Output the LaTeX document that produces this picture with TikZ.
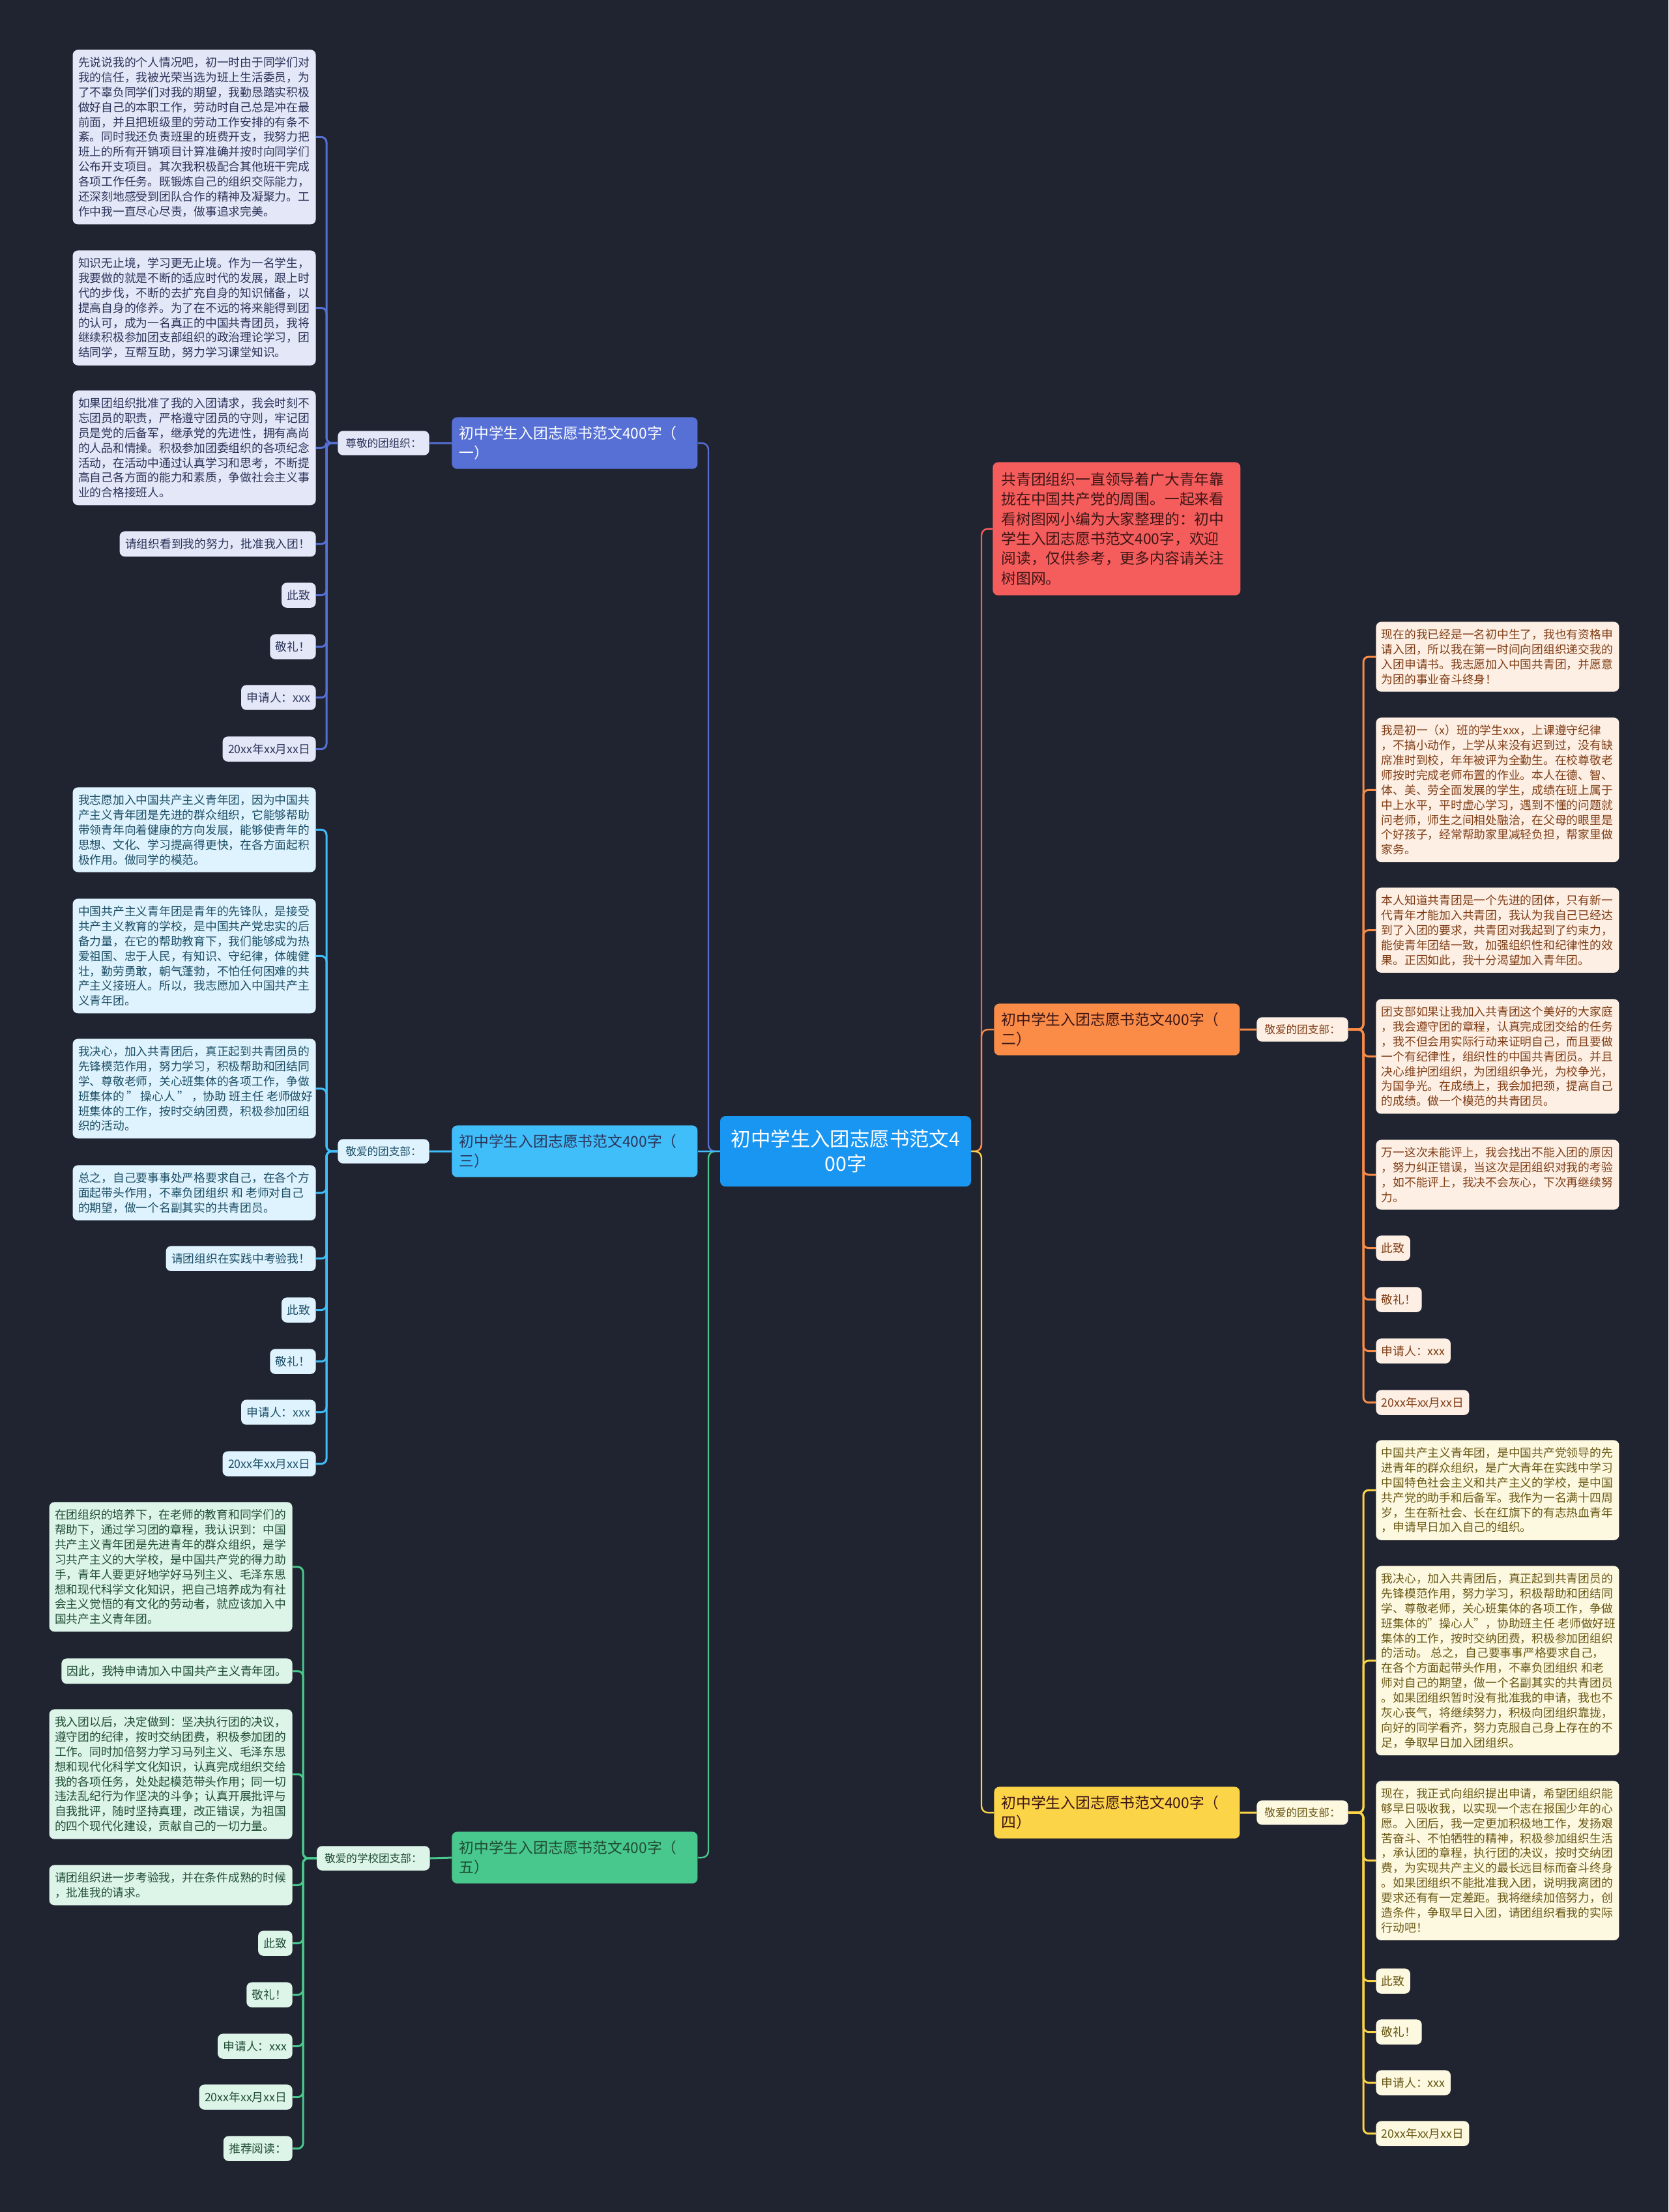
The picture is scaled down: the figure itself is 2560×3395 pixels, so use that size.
\documentclass[tikz,border=0pt]{standalone}
\usepackage{fontspec}
\setmainfont{Noto Sans CJK SC}
\usepackage{tikz}
\definecolor{bgdark}{RGB}{32,36,48}
\definecolor{rootblue}{RGB}{24,150,242}
\definecolor{cBlue}{RGB}{86,112,214}
\definecolor{cBlueLeaf}{RGB}{227,231,247}
\definecolor{cBlueInk}{RGB}{45,52,90}
\definecolor{cCyan}{RGB}{64,190,250}
\definecolor{cCyanLeaf}{RGB}{222,243,253}
\definecolor{cCyanInk}{RGB}{28,78,102}
\definecolor{cGreen}{RGB}{72,200,140}
\definecolor{cGreenLeaf}{RGB}{221,244,232}
\definecolor{cGreenInk}{RGB}{32,78,52}
\definecolor{cOrange}{RGB}{250,140,72}
\definecolor{cOrangeLeaf}{RGB}{253,239,228}
\definecolor{cOrangeInk}{RGB}{128,62,22}
\definecolor{cYellow}{RGB}{252,212,72}
\definecolor{cYellowLeaf}{RGB}{253,248,224}
\definecolor{cYellowInk}{RGB}{105,88,20}
\definecolor{cRed}{RGB}{245,92,92}
\definecolor{cRedInk}{RGB}{62,22,22}

\begin{document}
\begin{tikzpicture}[x=0.5pt, y=-0.5pt,
    box/.style={rounded corners=4pt, inner xsep=4.25pt, inner ysep=5.5pt, align=left,
      font=\fontsize{8.875}{11.45}\selectfont},
    para/.style={box, text width=178pt},
    tag/.style={rounded corners=4pt, inner xsep=6pt, inner ysep=5.5pt,
      font=\fontsize{8.3}{10}\selectfont},
    branch/.style={rounded corners=4pt, inner xsep=5.5pt, inner ysep=6.8pt,
      text width=177.5pt, align=left, font=\fontsize{11.4}{15.2}\selectfont},
    trunk/.style={line width=1.2pt, rounded corners=5pt},
    link/.style={line width=1.5pt, rounded corners=4pt},
    blueleaf/.style={fill=cBlueLeaf, text=cBlueInk},
    cyanleaf/.style={fill=cCyanLeaf, text=cCyanInk},
    greenleaf/.style={fill=cGreenLeaf, text=cGreenInk},
    orangeleaf/.style={fill=cOrangeLeaf, text=cOrangeInk},
    yellowleaf/.style={fill=cYellowLeaf, text=cYellowInk}]
  \path[use as bounding box, fill=bgdark] (0,0) rectangle (2560,3395);

  % Root and first level
  \node[rounded corners=4pt, fill=rootblue, text=white, align=center, minimum width=192.5pt,
    minimum height=54pt, font=\fontsize{15.2}{19}\selectfont] (root) at (1297.5,1767)
    {初中学生入团志愿书范文4\\00字};
  \node[branch, fill=cBlue, text=white, anchor=north west] (br1) at (693,640)
    {初中学生入团志愿书范文400字（\\一）};
  \node[branch, fill=cCyan, text=cBlueInk, anchor=north west] (br3) at (693,1727)
    {初中学生入团志愿书范文400字（\\三）};
  \node[branch, fill=cGreen, text=cGreenInk, anchor=north west] (br5) at (693,2811)
    {初中学生入团志愿书范文400字（\\五）};
  \node[branch, fill=cRed, text=cRedInk, text width=177pt, inner xsep=6.5pt, inner ysep=7.8pt,
    anchor=north west] (intro) at (1523,709)
    {共青团组织一直领导着广大青年靠\\拢在中国共产党的周围。一起来看\\看树图网小编为大家整理的：初中\\学生入团志愿书范文400字，欢迎\\阅读，仅供参考，更多内容请关注\\树图网。};
  \node[branch, fill=cOrange, text=cRedInk, anchor=north west] (br2) at (1525,1540)
    {初中学生入团志愿书范文400字（\\二）};
  \node[branch, fill=cYellow, text=cRedInk, anchor=north west] (br4) at (1525,2742)
    {初中学生入团志愿书范文400字（\\四）};

  % Labels
  \node[tag, blueleaf, anchor=east] (lab1) at (659,680) {尊敬的团组织：};
  \node[tag, cyanleaf, anchor=east] (lab3) at (659,1767) {敬爱的团支部：};
  \node[tag, greenleaf, anchor=east] (lab5) at (660,2852) {敬爱的学校团支部：};
  \node[tag, orangeleaf, anchor=west] (lab2) at (1928,1580) {敬爱的团支部：};
  \node[tag, yellowleaf, anchor=west] (lab4) at (1928,2782) {敬爱的团支部：};

  % Branch one
  \node[para, blueleaf, anchor=north east] (l1-1) at (485,76)
    {先说说我的个人情况吧，初一时由于同学们对\\我的信任，我被光荣当选为班上生活委员，为\\了不辜负同学们对我的期望，我勤恳踏实积极\\做好自己的本职工作，劳动时自己总是冲在最\\前面，并且把班级里的劳动工作安排的有条不\\紊。同时我还负责班里的班费开支，我努力把\\班上的所有开销项目计算准确并按时向同学们\\公布开支项目。其次我积极配合其他班干完成\\各项工作任务。既锻炼自己的组织交际能力，\\还深刻地感受到团队合作的精神及凝聚力。工\\作中我一直尽心尽责，做事追求完美。};
  \node[para, blueleaf, anchor=north east] (l1-2) at (485,384)
    {知识无止境，学习更无止境。作为一名学生，\\我要做的就是不断的适应时代的发展，跟上时\\代的步伐，不断的去扩充自身的知识储备，以\\提高自身的修养。为了在不远的将来能得到团\\的认可，成为一名真正的中国共青团员，我将\\继续积极参加团支部组织的政治理论学习，团\\结同学，互帮互助，努力学习课堂知识。};
  \node[para, blueleaf, anchor=north east] (l1-3) at (485,599)
    {如果团组织批准了我的入团请求，我会时刻不\\忘团员的职责，严格遵守团员的守则，牢记团\\员是党的后备军，继承党的先进性，拥有高尚\\的人品和情操。积极参加团委组织的各项纪念\\活动，在活动中通过认真学习和思考，不断提\\高自己各方面的能力和素质，争做社会主义事\\业的合格接班人。};
  \node[box, blueleaf, anchor=north east] (l1-4) at (485,815) {请组织看到我的努力，批准我入团！};
  \foreach \n/\y/\t in {5/894/此致, 6/973/敬礼！, 7/1051/申请人：xxx, 8/1130/20xx年xx月xx日}
    \node[box, blueleaf, anchor=north east] (l1-\n) at (485,\y) {\t};

  % Branch three
  \node[para, cyanleaf, anchor=north east] (l3-1) at (485,1208)
    {我志愿加入中国共产主义青年团，因为中国共\\产主义青年团是先进的群众组织，它能够帮助\\带领青年向着健康的方向发展，能够使青年的\\思想、文化、学习提高得更快，在各方面起积\\极作用。做同学的模范。};
  \node[para, cyanleaf, anchor=north east] (l3-2) at (485,1379)
    {中国共产主义青年团是青年的先锋队，是接受\\共产主义教育的学校，是中国共产党忠实的后\\备力量，在它的帮助教育下，我们能够成为热\\爱祖国、忠于人民，有知识、守纪律，体魄健\\壮，勤劳勇敢，朝气蓬勃，不怕任何困难的共\\产主义接班人。所以，我志愿加入中国共产主\\义青年团。};
  \node[para, cyanleaf, anchor=north east] (l3-3) at (485,1594)
    {我决心，加入共青团后，真正起到共青团员的\\先锋模范作用，努力学习，积极帮助和团结同\\学、尊敬老师，关心班集体的各项工作，争做\\\mbox{班集体的\hspace{.2em}"\hspace{.2em}操心人\hspace{.2em}"\hspace{.2em}，协助\hspace{.25em}班主任\hspace{.25em}老师做好}\\班集体的工作，按时交纳团费，积极参加团组\\织的活动。};
  \node[para, cyanleaf, anchor=north east] (l3-4) at (485,1788)
    {总之，自己要事事处严格要求自己，在各个方\\\mbox{面起带头作用，不辜负团组织\hspace{.25em}和\hspace{.25em}老师对自己}\\的期望，做一个名副其实的共青团员。};
  \node[box, cyanleaf, anchor=north east] (l3-5) at (485,1912) {请团组织在实践中考验我！};
  \foreach \n/\y/\t in {6/1991/此致, 7/2070/敬礼！, 8/2148/申请人：xxx, 9/2227/20xx年xx月xx日}
    \node[box, cyanleaf, anchor=north east] (l3-\n) at (485,\y) {\t};

  % Branch five
  \node[para, greenleaf, anchor=north east] (l5-1) at (449,2305)
    {在团组织的培养下，在老师的教育和同学们的\\帮助下，通过学习团的章程，我认识到：中国\\共产主义青年团是先进青年的群众组织，是学\\习共产主义的大学校，是中国共产党的得力助\\手，青年人要更好地学好马列主义、毛泽东思\\想和现代科学文化知识，把自己培养成为有社\\会主义觉悟的有文化的劳动者，就应该加入中\\国共产主义青年团。};
  \node[box, greenleaf, anchor=north east] (l5-2) at (449,2545) {因此，我特申请加入中国共产主义青年团。};
  \node[para, greenleaf, anchor=north east] (l5-3) at (449,2623)
    {我入团以后，决定做到：坚决执行团的决议，\\遵守团的纪律，按时交纳团费，积极参加团的\\工作。同时加倍努力学习马列主义、毛泽东思\\想和现代化科学文化知识，认真完成组织交给\\我的各项任务，处处起模范带头作用；同一切\\违法乱纪行为作坚决的斗争；认真开展批评与\\自我批评，随时坚持真理，改正错误，为祖国\\的四个现代化建设，贡献自己的一切力量。};
  \node[para, greenleaf, anchor=north east] (l5-4) at (449,2862)
    {请团组织进一步考验我，并在条件成熟的时候\\，批准我的请求。};
  \foreach \n/\y/\t in {5/2963/此致, 6/3042/敬礼！, 7/3121/申请人：xxx, 8/3199/20xx年xx月xx日, 9/3278/推荐阅读：}
    \node[box, greenleaf, anchor=north east] (l5-\n) at (449,\y) {\t};

  % Branch two
  \node[para, orangeleaf, anchor=north west] (l2-1) at (2111,954)
    {现在的我已经是一名初中生了，我也有资格申\\请入团，所以我在第一时间向团组织递交我的\\入团申请书。我志愿加入中国共青团，并愿意\\为团的事业奋斗终身！};
  \node[para, orangeleaf, anchor=north west] (l2-2) at (2111,1101)
    {我是初一（x）班的学生xxx，上课遵守纪律\\，不搞小动作，上学从来没有迟到过，没有缺\\席准时到校，年年被评为全勤生。在校尊敬老\\师按时完成老师布置的作业。本人在德、智、\\体、美、劳全面发展的学生，成绩在班上属于\\中上水平，平时虚心学习，遇到不懂的问题就\\问老师，师生之间相处融洽，在父母的眼里是\\个好孩子，经常帮助家里减轻负担，帮家里做\\家务。};
  \node[para, orangeleaf, anchor=north west] (l2-3) at (2111,1362)
    {本人知道共青团是一个先进的团体，只有新一\\代青年才能加入共青团，我认为我自己已经达\\到了入团的要求，共青团对我起到了约束力，\\能使青年团结一致，加强组织性和纪律性的效\\果。正因如此，我十分渴望加入青年团。};
  \node[para, orangeleaf, anchor=north west] (l2-4) at (2111,1533)
    {团支部如果让我加入共青团这个美好的大家庭\\，我会遵守团的章程，认真完成团交给的任务\\，我不但会用实际行动来证明自己，而且要做\\一个有纪律性，组织性的中国共青团员。并且\\决心维护团组织，为团组织争光，为校争光，\\为国争光。在成绩上，我会加把颈，提高自己\\的成绩。做一个模范的共青团员。};
  \node[para, orangeleaf, anchor=north west] (l2-5) at (2111,1749)
    {万一这次未能评上，我会找出不能入团的原因\\，努力纠正错误，当这次是团组织对我的考验\\，如不能评上，我决不会灰心，下次再继续努\\力。};
  \foreach \n/\y/\t in {6/1896/此致, 7/1975/敬礼！, 8/2054/申请人：xxx, 9/2133/20xx年xx月xx日}
    \node[box, orangeleaf, anchor=north west] (l2-\n) at (2111,\y) {\t};

  % Branch four
  \node[para, yellowleaf, anchor=north west] (l4-1) at (2111,2210)
    {中国共产主义青年团，是中国共产党领导的先\\进青年的群众组织，是广大青年在实践中学习\\中国特色社会主义和共产主义的学校，是中国\\共产党的助手和后备军。我作为一名满十四周\\岁，生在新社会、长在红旗下的有志热血青年\\，申请早日加入自己的组织。};
  \node[para, yellowleaf, anchor=north west] (l4-2) at (2111,2403)
    {我决心，加入共青团后，真正起到共青团员的\\先锋模范作用，努力学习，积极帮助和团结同\\学、尊敬老师，关心班集体的各项工作，争做\\\mbox{班集体的"操心人"，协助班主任\hspace{.25em}老师做好班}\\集体的工作，按时交纳团费，积极参加团组织\\\mbox{的活动。\hspace{.25em}总之，自己要事事严格要求自己，}\\\mbox{在各个方面起带头作用，不辜负团组织\hspace{.25em}和老}\\师对自己的期望，做一个名副其实的共青团员\\。如果团组织暂时没有批准我的申请，我也不\\灰心丧气，将继续努力，积极向团组织靠拢，\\向好的同学看齐，努力克服自己身上存在的不\\足，争取早日加入团组织。};
  \node[para, yellowleaf, anchor=north west] (l4-3) at (2111,2733)
    {现在，我正式向组织提出申请，希望团组织能\\够早日吸收我，以实现一个志在报国少年的心\\愿。入团后，我一定更加积极地工作，发扬艰\\苦奋斗、不怕牺牲的精神，积极参加组织生活\\，承认团的章程，执行团的决议，按时交纳团\\费，为实现共产主义的最长远目标而奋斗终身\\。如果团组织不能批准我入团，说明我离团的\\要求还有有一定差距。我将继续加倍努力，创\\造条件，争取早日入团，请团组织看我的实际\\行动吧！};
  \foreach \n/\y/\t in {4/3021/此致, 5/3099/敬礼！, 6/3177/申请人：xxx, 7/3255/20xx年xx月xx日}
    \node[box, yellowleaf, anchor=north west] (l4-\n) at (2111,\y) {\t};

  % Root connectors
  \coordinate (lt) at (1087,1767);
  \coordinate (rt) at (1506,1767);
  \draw[trunk, cBlue] (root.west) -- (lt) |- (br1.east);
  \draw[trunk, cGreen] (root.west) -- (lt) |- (br5.east);
  \draw[trunk, cCyan] (root.west) -- (br3.east);
  \draw[trunk, cRed] (root.east) -- (rt) |- (intro.west);
  \draw[trunk, cOrange] (root.east) -- (rt) |- (br2.west);
  \draw[trunk, cYellow] (root.east) -- (rt) |- (br4.west);

  % Branch to label
  \draw[link, cBlue] (br1.west) -- (lab1.east);
  \draw[link, cCyan] (br3.west) -- (lab3.east);
  \draw[link, cGreen] (br5.west) -- (lab5.east);
  \draw[link, cOrange] (br2.east) -- (lab2.west);
  \draw[link, cYellow] (br4.east) -- (lab4.west);

  % Label to leaves
  \coordinate (k1) at (501,680);
  \coordinate (k3) at (501,1767);
  \coordinate (k5) at (465,2852);
  \coordinate (k2) at (2092,1580);
  \coordinate (k4) at (2092,2782);
  \foreach \n in {1,...,8} \draw[link, cBlue] (lab1.west) -- (k1) |- (l1-\n.east);
  \foreach \n in {1,...,9} \draw[link, cCyan] (lab3.west) -- (k3) |- (l3-\n.east);
  \foreach \n in {1,...,9} \draw[link, cGreen] (lab5.west) -- (k5) |- (l5-\n.east);
  \foreach \n in {1,...,9} \draw[link, cOrange] (lab2.east) -- (k2) |- (l2-\n.west);
  \foreach \n in {1,...,7} \draw[link, cYellow] (lab4.east) -- (k4) |- (l4-\n.west);
\end{tikzpicture}
\end{document}
